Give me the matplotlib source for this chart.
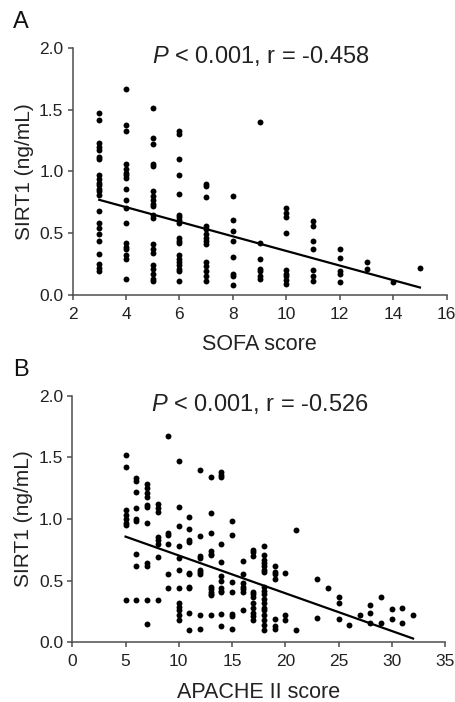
import matplotlib
matplotlib.use("Agg")
import matplotlib.pyplot as plt
import numpy as np

plt.rcParams['font.family'] = ['Liberation Sans', 'DejaVu Sans']
plt.rcParams['mathtext.fontset'] = 'custom'
plt.rcParams['mathtext.rm'] = 'Liberation Sans'
plt.rcParams['mathtext.it'] = 'Liberation Sans:italic'

# Panel A: SIRT1 values at each SOFA score
sofa_scores = [3, 4, 5, 6, 7, 8, 9, 10, 11, 12, 13, 14, 15]
sirt1_by_sofa = [
    [1.47, 1.42, 1.23, 1.20, 1.17, 1.12, 1.10, 0.97, 0.94, 0.91, 0.89, 0.86,
     0.84, 0.81, 0.68, 0.58, 0.54, 0.49, 0.44, 0.33, 0.25, 0.22, 0.19],
    [1.67, 1.38, 1.33, 1.06, 1.02, 0.99, 0.97, 0.95, 0.86, 0.77, 0.70, 0.58,
     0.42, 0.39, 0.37, 0.32, 0.29, 0.13],
    [1.51, 1.27, 1.22, 1.06, 1.04, 0.84, 0.80, 0.77, 0.74, 0.72, 0.65, 0.62,
     0.41, 0.37, 0.34, 0.24, 0.21, 0.17, 0.13, 0.11],
    [1.33, 1.30, 1.10, 0.97, 0.82, 0.65, 0.63, 0.61, 0.58, 0.46, 0.44, 0.42,
     0.32, 0.29, 0.27, 0.24, 0.21, 0.19, 0.11],
    [0.90, 0.88, 0.79, 0.56, 0.53, 0.49, 0.46, 0.44, 0.41, 0.27, 0.23, 0.19,
     0.15, 0.11],
    [0.80, 0.61, 0.52, 0.44, 0.31, 0.17, 0.15, 0.08],
    [1.40, 0.42, 0.29, 0.21, 0.19, 0.15, 0.13],
    [0.70, 0.66, 0.63, 0.50, 0.20, 0.17, 0.15, 0.12, 0.09],
    [0.60, 0.56, 0.44, 0.37, 0.20, 0.15, 0.11],
    [0.37, 0.30, 0.19, 0.17, 0.10],
    [0.27, 0.21],
    [0.10],
    [0.22],
]
fit_a = (0.9475, -0.0592)   # intercept, slope
title_a = r'$\mathit{P}$ < 0.001, r = -0.458'

# Panel B: SIRT1 values at each APACHE II score
apache_scores = [5, 6, 7, 8, 9, 10, 11, 12, 13, 14, 15, 16, 17, 18, 19, 20,
                 21, 23, 24, 25, 26, 27, 28, 29, 30, 31, 32]
sirt1_by_apache = [
    [1.52, 1.42, 1.07, 1.03, 1.00, 0.97, 0.95, 0.34],
    [1.33, 1.31, 1.22, 1.09, 1.00, 0.98, 0.72, 0.62, 0.34],
    [1.28, 1.25, 1.21, 1.18, 1.11, 1.10, 0.97, 0.64, 0.62, 0.34, 0.15],
    [1.12, 1.09, 1.06, 0.85, 0.83, 0.80, 0.69, 0.34],
    [1.67, 0.89, 0.87, 0.80, 0.55, 0.44],
    [1.47, 1.10, 0.94, 0.78, 0.68, 0.59, 0.44, 0.32, 0.29, 0.26, 0.22, 0.18],
    [1.02, 0.92, 0.83, 0.81, 0.56, 0.55, 0.45, 0.44, 0.24, 0.10],
    [1.40, 0.86, 0.70, 0.68, 0.59, 0.57, 0.55, 0.22, 0.11],
    [1.34, 1.05, 0.89, 0.74, 0.72, 0.71, 0.45, 0.43, 0.41, 0.39, 0.38, 0.22],
    [1.38, 1.36, 1.34, 0.80, 0.65, 0.54, 0.50, 0.44, 0.42, 0.41, 0.23, 0.13],
    [0.98, 0.87, 0.49, 0.41, 0.23, 0.21, 0.11],
    [0.66, 0.55, 0.48, 0.45, 0.43, 0.41, 0.26],
    [0.75, 0.73, 0.70, 0.41, 0.39, 0.37, 0.32, 0.28, 0.24, 0.21, 0.18],
    [0.78, 0.71, 0.67, 0.64, 0.62, 0.59, 0.57, 0.45, 0.42, 0.39, 0.35, 0.32,
     0.28, 0.26, 0.22, 0.18, 0.14, 0.10],
    [0.62, 0.57, 0.55, 0.51, 0.19, 0.13, 0.11],
    [0.56, 0.22, 0.18],
    [0.91, 0.10],
    [0.51, 0.20],
    [0.44],
    [0.37, 0.32, 0.19],
    [0.14],
    [0.22],
    [0.30, 0.24, 0.16],
    [0.37, 0.16],
    [0.27, 0.19],
    [0.28, 0.16],
    [0.22],
]
fit_b = (1.010, -0.0306)
title_b = r'$\mathit{P}$ < 0.001, r = -0.526'

spine_col = '#4d4d4d'


def flatten(scores, groups):
    xs, ys = [], []
    for s, g in zip(scores, groups):
        xs += [s] * len(g)
        ys += g
    return np.array(xs), np.array(ys)


def draw_panel(ax, scores, groups, fit, title, xlabel, xlim, xticks, letter):
    x, y = flatten(scores, groups)
    ax.scatter(x, y, s=18, color='black', linewidths=0, zorder=3)
    xf = np.array([x.min(), x.max()])
    ax.plot(xf, fit[0] + fit[1] * xf, color='black', lw=1.6, zorder=4)

    ax.set_xlim(*xlim)
    ax.set_ylim(0, 2.0)
    ax.set_xticks(xticks)
    ax.set_yticks([0, 0.5, 1.0, 1.5, 2.0])
    ax.set_yticklabels(['0.0', '0.5', '1.0', '1.5', '2.0'])
    for side in ['top', 'right']:
        ax.spines[side].set_visible(False)
    for side in ['left', 'bottom']:
        ax.spines[side].set_color(spine_col)
        ax.spines[side].set_linewidth(1.1)
    ax.tick_params(direction='out', length=3.5, width=1.1, color=spine_col,
                   labelsize=12.5, labelcolor='#222222')
    ax.tick_params(axis='x', pad=5)
    ax.tick_params(axis='y', pad=3)
    ax.set_xlabel(xlabel, fontsize=15.5, color='#222222', labelpad=9)
    ax.set_ylabel('SIRT1 (ng/mL)', fontsize=15, color='#222222', labelpad=4)
    ax.text(0.503, 0.939, title, transform=ax.transAxes, ha='center',
            va='baseline', fontsize=17, color='#222222')
    ax.text(-0.16, 1.06, letter, transform=ax.transAxes, ha='left',
            va='bottom', fontsize=17, color='#111111')


fig = plt.figure(figsize=(4.56, 7.02), dpi=100)
ax_a = fig.add_axes([0.159, 0.580, 0.8206, 0.3516])
ax_b = fig.add_axes([0.1586, 0.085, 0.8173, 0.3514])

draw_panel(ax_a, sofa_scores, sirt1_by_sofa, fit_a, title_a, 'SOFA score',
           (2, 16), [2, 4, 6, 8, 10, 12, 14, 16], 'A')
draw_panel(ax_b, apache_scores, sirt1_by_apache, fit_b, title_b,
           'APACHE II score', (0, 35), [0, 5, 10, 15, 20, 25, 30, 35], 'B')

fig.savefig('out.png', dpi=100)
